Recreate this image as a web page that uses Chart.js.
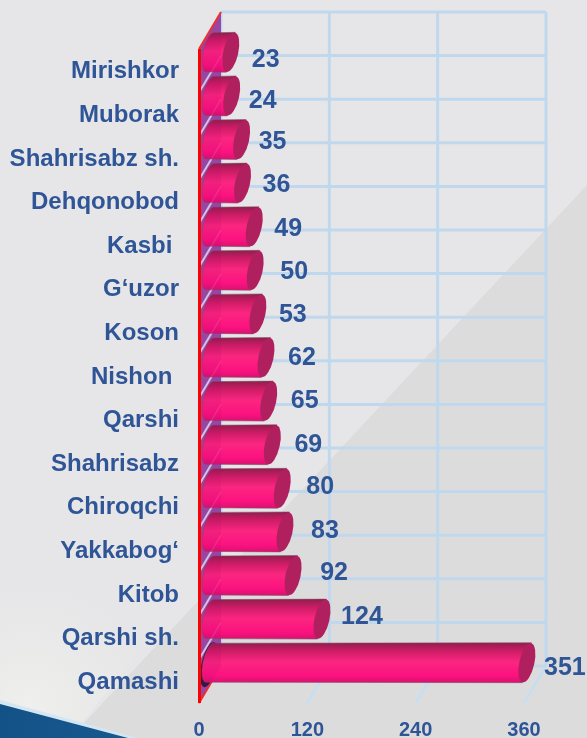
<!DOCTYPE html>
<html>
<head>
<meta charset="utf-8">
<title>Chart</title>
<script src="https://cdn.jsdelivr.net/npm/chart.js@4"></script>
<style>
  html, body { margin: 0; padding: 0; width: 587px; height: 738px; overflow: hidden; background: #e6e6e8; }
  .shade { position: absolute; inset: 0; background: #dcdcdc; clip-path: polygon(587px 185px, 587px 738px, 70px 738px); }
  .glow { position: absolute; inset: 0; background: radial-gradient(circle at 30px 705px, #efefed 0, #ebebea 45px, rgba(230,230,232,0) 120px); clip-path: polygon(0 500px, 260px 500px, 70px 738px, 0 738px); }
  .edge { position: absolute; inset: 0; background: #d3e6f2; clip-path: polygon(0 700px, 138px 738px, 0 738px); }
  .corner { position: absolute; inset: 0; background: linear-gradient(100deg, #0f4c80, #1f649c 70%, #19598f); clip-path: polygon(0 704px, 128px 738px, 0 738px); }
  canvas { position: absolute; left: 0; top: 0; filter: blur(0.35px); }
</style>
</head>
<body>
<div class="shade"></div>
<div class="glow"></div>
<div class="edge"></div>
<div class="corner"></div>
<canvas id="myChart" width="587" height="738"></canvas>
<script>
    //datos
    const distritos = ['Mirishkor', 'Muborak', 'Shahrisabz sh.', 'Dehqonobod', 'Kasbi ', 'G‘uzor', 'Koson', 'Nishon ', 'Qarshi', 'Shahrisabz', 'Chiroqchi', 'Yakkabog‘', 'Kitob', 'Qarshi sh.', 'Qamashi']
    const valores = [23, 24, 35, 36, 49, 50, 53, 62, 65, 69, 80, 83, 92, 124, 351]
    const marcasX = [0, 120, 240, 360]

    //ajuste fino de las etiquetas de valor
    const ajusteX = [46, 42, 42, 45, 45, 50, 46, 47, 47, 47, 49, 51, 52, 51, 49]
    const ajusteY = [-11, -13.5, -16, -16, -16.5, -17, -17, -17.5, -18, -18, -19.5, -19, -21, -20.5, -13]

    //estilos
    const azul = '#2f5597'
    const rejilla = '#c0d8ee'
    const fondoX = 22
    const fondoY = -37
    const fuente = 'Liberation Sans, Arial, sans-serif'

    function linea(ctx, x1, y1, x2, y2, color, ancho){
        ctx.strokeStyle = color
        ctx.lineWidth = ancho
        ctx.beginPath()
        ctx.moveTo(x1, y1)
        ctx.lineTo(x2, y2)
        ctx.stroke()
    }

    function pared(ctx, area){
        ctx.beginPath()
        ctx.moveTo(area.left, area.top)
        ctx.lineTo(area.left + fondoX, area.top + fondoY)
        ctx.lineTo(area.left + fondoX, area.bottom + fondoY)
        ctx.lineTo(area.left, area.bottom)
        ctx.closePath()
    }

    //rejilla de fondo, suelo y pared lateral
    function dibujarFondo(chart){
        const {ctx, chartArea: area, scales} = chart
        const paso = (area.bottom - area.top) / distritos.length

        ctx.save()
        marcasX.forEach(m => {
            const x = scales.x.getPixelForValue(m)
            linea(ctx, x + fondoX, area.top + fondoY, x + fondoX, area.bottom + fondoY, rejilla, 3)
            if (m > 0) linea(ctx, x, area.bottom, x + fondoX, area.bottom + fondoY, '#c6def2', 2.5)
        })
        for (let i = 0; i <= distritos.length; i++) {
            const y = area.top + paso * i + fondoY
            linea(ctx, area.left + fondoX, y, scales.x.getPixelForValue(360) + fondoX, y, rejilla, 3)
        }

        pared(ctx, area)
        ctx.fillStyle = '#9450ac'
        ctx.fill()

        for (let i = 1; i < distritos.length; i++) {
            const y = area.top + paso * i
            linea(ctx, area.left, y, area.left + fondoX, y + fondoY, '#d5d5f0', 2)
        }
        linea(ctx, area.left, area.bottom, area.left + fondoX, area.bottom + fondoY, '#f03030', 2)
        ctx.restore()
    }

    //cilindro de cada barra
    function cilindro(ctx, barra, area, ultima){
        const mitadX = fondoX / 2
        const cy = barra.y + fondoY / 2
        const alto = barra.height
        const arriba = cy - alto / 2
        const abajo = cy + alto / 2
        const xIni = area.left + mitadX
        const xFin = barra.x + mitadX
        const giro = 0.22

        const grad = ctx.createLinearGradient(0, arriba, 0, abajo)
        grad.addColorStop(0, '#8f1f4c')
        grad.addColorStop(0.2, '#cc1c66')
        grad.addColorStop(0.48, '#fb2680')
        grad.addColorStop(0.82, '#fc1280')
        grad.addColorStop(1, '#d81270')

        ctx.save()

        //sombra oscura de la primera barra contra la pared
        if (ultima) {
            ctx.beginPath()
            ctx.ellipse(xIni - 1, cy + 2, 7.5, alto / 2 + 3, giro, 0, Math.PI * 2)
            ctx.fillStyle = '#2a1a3c'
            ctx.fill()
        }

        ctx.beginPath()
        ctx.ellipse(xIni, cy, 7, alto / 2, giro, Math.PI / 2, Math.PI * 1.5)
        ctx.lineTo(xFin + 4.5, arriba)
        ctx.lineTo(xFin - 4.5, abajo)
        ctx.closePath()
        ctx.fillStyle = grad
        ctx.strokeStyle = 'rgba(120,80,100,0.5)'
        ctx.lineWidth = 1
        ctx.fill()
        ctx.stroke()

        ctx.beginPath()
        ctx.ellipse(xFin, cy, 7.5, alto / 2, giro, 0, Math.PI * 2)
        ctx.fillStyle = '#b0205f'
        ctx.fill()
        ctx.restore()
    }

    const pluginTresD = {
        id: 'tresD',
        beforeDatasetsDraw(chart){
            dibujarFondo(chart)
        },
        beforeDatasetDraw(chart, args){
            const {ctx, chartArea: area} = chart
            args.meta.data.forEach((barra, i) => cilindro(ctx, barra, area, i === valores.length - 1))
            return false
        },
        afterDatasetsDraw(chart){
            const {ctx, chartArea: area} = chart
            const paso = (area.bottom - area.top) / distritos.length
            ctx.save()

            //tinte de la pared sobre las barras
            pared(ctx, area)
            ctx.fillStyle = 'rgba(170,0,110,0.12)'
            ctx.fill()
            for (let i = 1; i < distritos.length; i++) {
                const y = area.top + paso * i
                linea(ctx, area.left, y, area.left + fondoX, y + fondoY, 'rgba(255,255,255,0.1)', 1.5)
            }

            //eje rojo
            linea(ctx, area.left + 0.5, area.top, area.left + 0.5, area.bottom, '#ff0000', 3)
            linea(ctx, area.left, area.top, area.left + fondoX, area.top + fondoY, '#f03030', 2)

            //etiquetas de valor
            ctx.fillStyle = azul
            ctx.font = 'bold 25px ' + fuente
            ctx.textAlign = 'center'
            ctx.textBaseline = 'middle'
            chart.getDatasetMeta(0).data.forEach((barra, i) => {
                ctx.fillText(valores[i], barra.x + ajusteX[i], barra.y + ajusteY[i])
            })
            ctx.restore()
        }
    }

    const config = {
        type: 'bar',
        data: {
            labels: distritos,
            datasets: [{
                data: valores,
                backgroundColor: '#fa2280',
                barThickness: 40
            }]
        },
        options: {
            indexAxis: 'y',
            responsive: false,
            animation: false,
            layout: { padding: { top: 49, right: 63, left: 0, bottom: 0 } },
            plugins: { legend: { display: false }, tooltip: { enabled: false } },
            scales: {
                x: {
                    min: 0,
                    max: 360,
                    afterFit(scale){ scale.height = 35 },
                    afterBuildTicks(scale){ scale.ticks = marcasX.map(value => ({value})) },
                    grid: { display: false },
                    border: { display: false },
                    ticks: {
                        color: azul,
                        font: { family: fuente, size: 20, weight: 'bold' },
                        padding: 7,
                        maxRotation: 0
                    }
                },
                y: {
                    afterFit(scale){ scale.width = 199 },
                    grid: { display: false },
                    border: { display: false },
                    ticks: {
                        color: azul,
                        autoSkip: false,
                        font: { family: fuente, size: 24, weight: 'bold' },
                        padding: 12,
                        labelOffset: 1
                    }
                }
            }
        },
        plugins: [pluginTresD]
    }

    const myChart = new Chart(document.getElementById('myChart'), config)
</script>
</body>
</html>
